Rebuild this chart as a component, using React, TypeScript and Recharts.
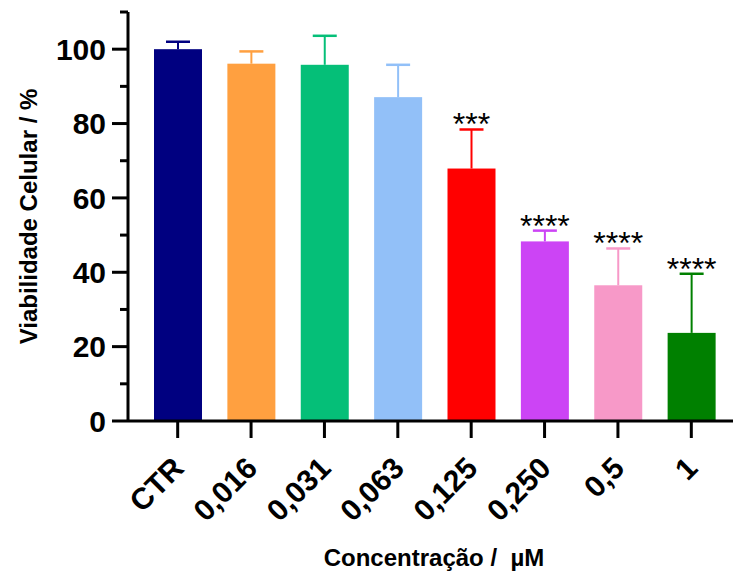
import { ComposedChart, Bar, XAxis, YAxis } from "recharts";

const categories = ["CTR", "0,016", "0,031", "0,063", "0,125", "0,250", "0,5", "1"];
const viability = [100, 96.1, 95.8, 87.1, 67.9, 48.3, 36.5, 23.7];
const errorUp = [2.0, 3.3, 7.8, 8.7, 10.5, 2.9, 9.9, 15.9];
const significance = ["", "", "", "", "***", "****", "****", "****"];
const barColors = ["#000080", "#FFA040", "#05BF78", "#92C0F8", "#FF0000", "#CC44F5", "#F799C8", "#008000"];
const yTicks = [0, 10, 20, 30, 40, 50, 60, 70, 80, 90, 100, 110];

const FONT = '"Liberation Sans", Arial, sans-serif';

const data = categories.map((name, i) => ({
  name,
  value: viability[i],
  err: errorUp[i],
  stars: significance[i],
  color: barColors[i],
}));

function BarWithError(props: any) {
  const { x, y, width, height, payload } = props;
  const pxPerUnit = height / payload.value;
  const capY = y - payload.err * pxPerUnit;
  const cx = x + width / 2;
  return (
    <g>
      <rect x={x} y={y} width={width} height={height} fill={payload.color} />
      <line x1={cx} x2={cx} y1={y} y2={capY} stroke={payload.color} strokeWidth={2} />
      <line x1={cx - 12} x2={cx + 12} y1={capY} y2={capY} stroke={payload.color} strokeWidth={2.5} />
      {payload.stars && (
        <text x={cx} y={capY + 6} textAnchor="middle" fontFamily={FONT} fontSize={32} fill="#000">
          {payload.stars}
        </text>
      )}
    </g>
  );
}

function YTick({ x, y, payload }: any) {
  const major = payload.value % 20 === 0;
  return (
    <g>
      <line x1={x - (major ? 16 : 8)} x2={x} y1={y} y2={y} stroke="#000" strokeWidth={3} />
      {major && (
        <text x={x - 22} y={y} dy="0.36em" textAnchor="end" fontFamily={FONT} fontWeight="bold" fontSize={30} fill="#000">
          {payload.value}
        </text>
      )}
    </g>
  );
}

function XTick({ x, y, payload }: any) {
  const ax = x + 8;
  const ay = y + 49;
  return (
    <g>
      <line x1={x} x2={x} y1={y} y2={y + 17} stroke="#000" strokeWidth={3} />
      <text
        x={ax}
        y={ay}
        textAnchor="end"
        transform={`rotate(-45, ${ax}, ${ay})`}
        fontFamily={FONT}
        fontWeight="bold"
        fontSize={30}
        fill="#000"
      >
        {payload.value}
      </text>
    </g>
  );
}

export default function App() {
  return (
    <div style={{ position: "absolute", left: 0, top: 0, width: 733, height: 574, overflow: "hidden", background: "#fff" }}>
      <ComposedChart width={733} height={574} data={data} margin={{ top: 12, right: 0, left: 0, bottom: 0 }}>
        <XAxis
          dataKey="name"
          height={153}
          padding={{ left: 13, right: 5 }}
          axisLine={{ stroke: "#000", strokeWidth: 3 }}
          tickLine={false}
          tickSize={0}
          tickMargin={0}
          interval={0}
          tick={<XTick />}
        />
        <YAxis
          width={128}
          domain={[0, 110]}
          ticks={yTicks}
          interval={0}
          axisLine={{ stroke: "#000", strokeWidth: 3 }}
          tickLine={false}
          tickSize={0}
          tickMargin={0}
          tick={<YTick />}
          label={{
            value: "Viabilidade Celular / %",
            angle: -90,
            position: "insideLeft",
            offset: 0,
            dx: 28,
            style: { fontFamily: FONT, fontWeight: "bold", fontSize: 24, fill: "#000", textAnchor: "middle" },
          }}
        />
        <Bar dataKey="value" barSize={48} shape={<BarWithError />} isAnimationActive={false} />
        <text
          x={434}
          y={566}
          textAnchor="middle"
          fontFamily={FONT}
          fontWeight="bold"
          fontSize={24}
          fill="#000"
          style={{ whiteSpace: "pre" }}
        >
          Concentração /  µM
        </text>
      </ComposedChart>
    </div>
  );
}
